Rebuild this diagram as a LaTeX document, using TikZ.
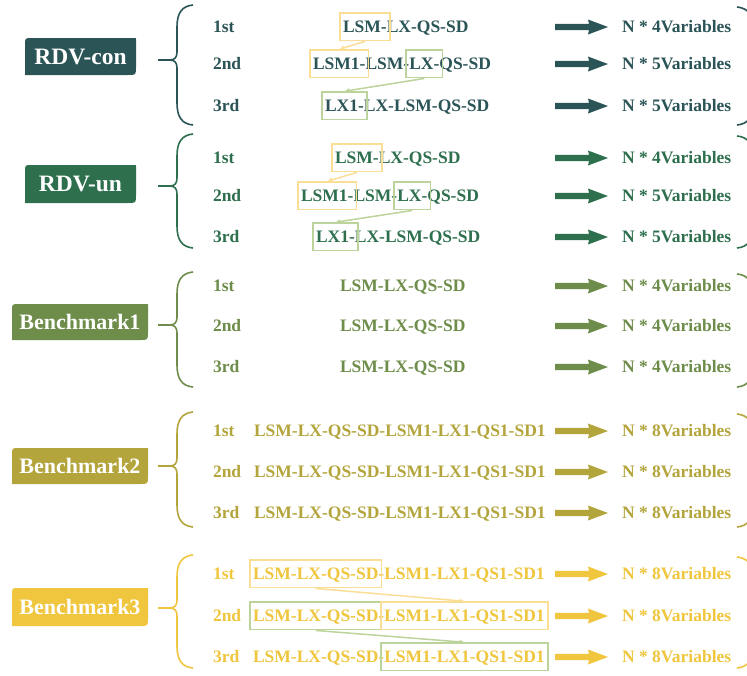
\documentclass[tikz,border=0pt]{standalone}
\usepackage{fontspec}
\setmainfont{Liberation Serif}
\usetikzlibrary{fit,arrows.meta}
\definecolor{ccon}{HTML}{2B5457}
\definecolor{cun}{HTML}{2E6F4E}
\definecolor{cbone}{HTML}{6E8D4A}
\definecolor{cbtwo}{HTML}{B3A53C}
\definecolor{cbthree}{HTML}{EFC63D}
\definecolor{hly}{HTML}{FADE96}
\definecolor{hlg}{HTML}{BCD49C}
\tikzset{
 pc/.style={inner sep=0pt, outer sep=0pt, anchor=base west, font=\fontsize{17.5}{21}\selectfont\bfseries, text height=11.5pt, text depth=0pt},
 lbl/.style={font=\fontsize{22}{26}\selectfont\bfseries, text=white, inner sep=0pt},
 lblbig/.style={lbl, font=\fontsize{23.5}{27}\selectfont\bfseries},
 hlbox/.style={draw=#1, line width=1.7pt, inner xsep=3pt, inner ysep=8pt},
 hlarr/.style={draw=#1, line width=1.5pt, -{Latex[length=5pt,width=5pt]}},
 brc/.style={draw=#1, line width=1.6pt}
}
% group decorations: colour, ytop, ymid, ybot
\newcommand\grpbrace[4]{%
 \draw[brc=#1] (193,#2) .. controls (182,#2+1) and (177,#2+8) .. (177,#2+22) -- (177,#3-8) .. controls (177,#3-3) and (175,#3) .. (170,#3) .. controls (175,#3) and (177,#3+3) .. (177,#3+8) -- (177,#4-22) .. controls (177,#4-8) and (182,#4-1) .. (193,#4);
 \draw[brc=#1] (158,#3) -- (170,#3);
 \draw[brc=#1] (737,#2+2) .. controls (748,#2+3) and (753,#2+10) .. (753,#2+24) -- (753,#4-22) .. controls (753,#4-8) and (748,#4-1) .. (737,#4);
}
% label box: colour, x1, x2, ytop, ybot, name, text, style
\newcommand\grplabel[8]{%
 \fill[#1] (#2,#5) -- (#2,#4+7) .. controls (#2,#4) .. (#2+7,#4) -- (#3-1.5,#4) .. controls (#3,#4) .. (#3,#4+1.5) -- (#3,#5-8) .. controls (#3,#5) .. (#3-8,#5) -- cycle;
 \node[#8] (#6) at ({(#2+#3)/2},{(#4+#5)/2}) {#7};
}
% fat arrow: colour, y
\newcommand\fatarrow[2]{%
 \fill[#1] (555,#2-3.2) -- (589,#2-3.2) -- (588,#2-7.5) -- (608,#2) -- (588,#2+7.5) -- (589,#2+3.2) -- (555,#2+3.2) -- cycle;
}
% row label and result: colour, y centre, name, ordinal, result
\newcommand\rowends[5]{%
 \node[pc, text=#1] (#3o) at (213,#2+5.6) {#4};
 \node[pc, text=#1] (#3r) at (622,#2+5.6) {#5};
 \fatarrow{#1}{#2}
}
\begin{document}
\begin{tikzpicture}[x=1pt,y=-1pt]
\useasboundingbox (0,0) rectangle (747,675);
\clip (0,0) rectangle (747,675);
\fill[white] (0,0) rectangle (747,675);

% ---------------- RDV-con
\grplabel{ccon}{25}{136}{38}{75}{lcon}{RDV-con}{lblbig}
\grpbrace{ccon}{5}{60}{125}
\rowends{ccon}{27}{con1}{1st}{N * 4Variables}
\rowends{ccon}{64}{con2}{2nd}{N * 5Variables}
\rowends{ccon}{106}{con3}{3rd}{N * 5Variables}
\node[pc, text=ccon] (con1a) at (343,32.6) {LSM-};
\node[pc, text=ccon] (con1b) at (con1a.base east) {LX-QS-SD};
\node[pc, text=ccon] (con2a) at (313,69.6) {LSM1-};
\node[pc, text=ccon] (con2b) at (con2a.base east) {LSM-};
\node[pc, text=ccon] (con2c) at (con2b.base east) {LX-};
\node[pc, text=ccon] (con2d) at (con2c.base east) {QS-SD};
\node[pc, text=ccon] (con3a) at (325,111.6) {LX1-};
\node[pc, text=ccon] (con3b) at (con3a.base east) {LX-LSM-QS-SD};
\node[hlbox=hly, fit=(con1a)] (con1y) {};
\node[hlbox=hly, fit=(con2a)] (con2y) {};
\node[hlbox=hlg, fit=(con2c)] (con2g) {};
\node[hlbox=hlg, fit=(con3a)] (con3g) {};
\draw[hlarr=hly] (con1y.south) -- (con2y.north);
\draw[hlarr=hlg] (con2g.south) -- (con3g.north);

% ---------------- RDV-un
\grplabel{cun}{25}{136}{165}{203}{lun}{RDV-un}{lblbig}
\grpbrace{cun}{134}{186}{248}
\rowends{cun}{158}{un1}{1st}{N * 4Variables}
\rowends{cun}{196}{un2}{2nd}{N * 5Variables}
\rowends{cun}{237}{un3}{3rd}{N * 5Variables}
\node[pc, text=cun] (un1a) at (335,163.6) {LSM-};
\node[pc, text=cun] (un1b) at (un1a.base east) {LX-QS-SD};
\node[pc, text=cun] (un2a) at (301,201.6) {LSM1-};
\node[pc, text=cun] (un2b) at (un2a.base east) {LSM-};
\node[pc, text=cun] (un2c) at (un2b.base east) {LX-};
\node[pc, text=cun] (un2d) at (un2c.base east) {QS-SD};
\node[pc, text=cun] (un3a) at (316,242.6) {LX1-};
\node[pc, text=cun] (un3b) at (un3a.base east) {LX-LSM-QS-SD};
\node[hlbox=hly, fit=(un1a)] (un1y) {};
\node[hlbox=hly, fit=(un2a)] (un2y) {};
\node[hlbox=hlg, fit=(un2c)] (un2g) {};
\node[hlbox=hlg, fit=(un3a)] (un3g) {};
\draw[hlarr=hly] (un1y.south) -- (un2y.north);
\draw[hlarr=hlg] (un2g.south) -- (un3g.north);

% ---------------- Benchmark1
\grplabel{cbone}{12}{148}{304}{340}{lbone}{Benchmark1}{lbl}
\grpbrace{cbone}{272}{325}{387}
\rowends{cbone}{286}{bo1}{1st}{N * 4Variables}
\rowends{cbone}{326}{bo2}{2nd}{N * 4Variables}
\rowends{cbone}{367}{bo3}{3rd}{N * 4Variables}
\node[pc, text=cbone] (bo1a) at (340,291.6) {LSM-LX-QS-SD};
\node[pc, text=cbone] (bo2a) at (340,331.6) {LSM-LX-QS-SD};
\node[pc, text=cbone] (bo3a) at (340,372.6) {LSM-LX-QS-SD};

% ---------------- Benchmark2
\grplabel{cbtwo}{12}{148}{448}{484}{lbtwo}{Benchmark2}{lbl}
\grpbrace{cbtwo}{412}{466}{527}
\rowends{cbtwo}{431}{bt1}{1st}{N * 8Variables}
\rowends{cbtwo}{472}{bt2}{2nd}{N * 8Variables}
\rowends{cbtwo}{513}{bt3}{3rd}{N * 8Variables}
\node[pc, text=cbtwo] (bt1a) at (254,436.6) {LSM-LX-QS-SD-LSM1-LX1-QS1-SD1};
\node[pc, text=cbtwo] (bt2a) at (254,477.6) {LSM-LX-QS-SD-LSM1-LX1-QS1-SD1};
\node[pc, text=cbtwo] (bt3a) at (254,518.6) {LSM-LX-QS-SD-LSM1-LX1-QS1-SD1};

% ---------------- Benchmark3
\grplabel{cbthree}{12}{148}{588}{626}{lbthree}{Benchmark3}{lbl}
\grpbrace{cbthree}{555}{608}{668}
\rowends{cbthree}{574}{bh1}{1st}{N * 8Variables}
\rowends{cbthree}{616}{bh2}{2nd}{N * 8Variables}
\rowends{cbthree}{657}{bh3}{3rd}{N * 8Variables}
\node[pc, text=cbthree] (bh1a) at (253,579.6) {LSM-LX-QS-SD};
\node[pc, text=cbthree] (bh1b) at (bh1a.base east) {-};
\node[pc, text=cbthree] (bh1c) at (bh1b.base east) {LSM1-LX1-QS1-SD1};
\node[pc, text=cbthree] (bh2a) at (253,621.6) {LSM-LX-QS-SD};
\node[pc, text=cbthree] (bh2b) at (bh2a.base east) {-};
\node[pc, text=cbthree] (bh2c) at (bh2b.base east) {LSM1-LX1-QS1-SD1};
\node[pc, text=cbthree] (bh3a) at (253,662.6) {LSM-LX-QS-SD};
\node[pc, text=cbthree] (bh3b) at (bh3a.base east) {-};
\node[pc, text=cbthree] (bh3c) at (bh3b.base east) {LSM1-LX1-QS1-SD1};
\node[hlbox=hly, fit=(bh1a)] (bh1y) {};
\node[hlbox=hlg, fit=(bh2a)] (bh2g) {};
\node[hlbox=hly, fit=(bh2c)] (bh2y) {};
\node[hlbox=hlg, fit=(bh3c)] (bh3g) {};
\draw[hlarr=hly] (bh1y.south) -- (bh2y.north);
\draw[hlarr=hlg] (bh2g.south) -- (bh3g.north);
\end{tikzpicture}
\end{document}
